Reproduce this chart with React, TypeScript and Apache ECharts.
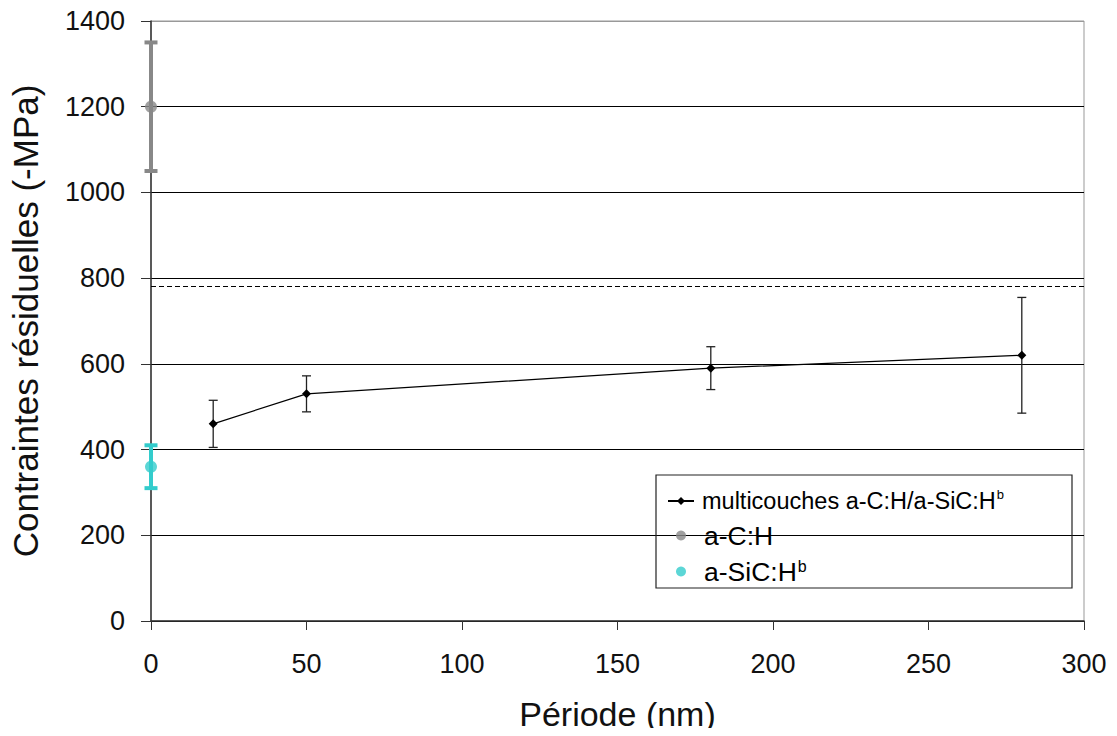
import React, { useEffect, useRef } from "react";
import * as echarts from "echarts";

const periods = [20, 50, 180, 280];
const multiValues = [460, 530, 590, 620];
const multiErrors = [55, 42, 50, 135];
const acValue = 1200;
const acError = 150;
const asicValue = 360;
const asicError = 50;
const refLine = 780;
const xTicks = { min: 0, max: 300, interval: 50 };
const yTicks = { min: 0, max: 1400, interval: 200 };

const NAME_MULTI = "multicouches a-C:H/a-SiC:H";
const NAME_AC = "a-C:H";
const NAME_ASIC = "a-SiC:H";

function errorBar(color: string, width: number, cap: number) {
  return (params: any, api: any) => {
    const x = api.value(0);
    const lo = api.coord([x, api.value(1)]);
    const hi = api.coord([x, api.value(2)]);
    const style = { stroke: color, lineWidth: width };
    return {
      type: "group",
      children: [
        { type: "line", shape: { x1: lo[0], y1: lo[1], x2: hi[0], y2: hi[1] }, style },
        { type: "line", shape: { x1: lo[0] - cap / 2, y1: lo[1], x2: lo[0] + cap / 2, y2: lo[1] }, style },
        { type: "line", shape: { x1: hi[0] - cap / 2, y1: hi[1], x2: hi[0] + cap / 2, y2: hi[1] }, style },
      ],
    };
  };
}

export default function App() {
  const ref = useRef<HTMLDivElement>(null);
  useEffect(() => {
    if (!ref.current) return;
    const chart = echarts.init(ref.current, null, { renderer: "svg" });
    const font = "Liberation Sans, Arial, sans-serif";
    const multiErr = periods.map((p, i) => [p, multiValues[i] - multiErrors[i], multiValues[i] + multiErrors[i]]);
    const option: any = {
      animation: false,
      backgroundColor: "#fff",
      textStyle: { fontFamily: font },
      grid: {
        left: 151, top: 21, right: 33, bottom: 115,
        show: true, borderColor: "#999", borderWidth: 1,
      },
      xAxis: {
        type: "value",
        min: xTicks.min, max: xTicks.max, interval: xTicks.interval,
        name: "Période (nm)",
        nameLocation: "middle",
        nameGap: 76,
        nameTextStyle: { fontSize: 34, color: "#111", fontFamily: font },
        axisLine: { show: true, lineStyle: { color: "#333", width: 1.5 } },
        axisTick: { show: true, length: 9, lineStyle: { color: "#333" } },
        axisLabel: { fontSize: 27, color: "#111", margin: 29, fontFamily: font, formatter: (v: number) => String(v) },
        splitLine: { show: false },
      },
      yAxis: {
        type: "value",
        min: yTicks.min, max: yTicks.max, interval: yTicks.interval,
        name: "Contraintes résiduelles (-MPa)",
        nameLocation: "middle",
        nameGap: 108,
        nameTextStyle: { fontSize: 35, color: "#111", fontFamily: font },
        axisLine: { show: true, lineStyle: { color: "#333", width: 1.5 } },
        axisTick: { show: true, length: 10, lineStyle: { color: "#333" } },
        axisLabel: { fontSize: 27, color: "#111", margin: 26, fontFamily: font, formatter: (v: number) => String(v) },
        splitLine: {
          show: true,
          lineStyle: {
            color: ["#000", "#000", "#000", "#000", "#000", "#000", "#000", "#999"],
            width: 1.2,
          },
        },
      },
      legend: {
        orient: "vertical",
        left: 662,
        top: 483,
        itemGap: 9,
        itemWidth: 26,
        itemHeight: 10,
        data: [
          { name: NAME_MULTI },
          { name: NAME_AC, icon: "circle" },
          { name: NAME_ASIC, icon: "circle" },
        ],
        formatter: (name: string) => {
          if (name === NAME_MULTI) return "{m|" + name + "}{sup|b}";
          if (name === NAME_ASIC) return "{n|" + name + "}{supb|b}";
          return "{n|" + name + "}";
        },
        textStyle: {
          fontFamily: font,
          color: "#000",
          rich: {
            m: { fontSize: 23.5, fontFamily: font, color: "#000", lineHeight: 26, padding: [0, 0, 0, 3] },
            n: { fontSize: 26.5, fontFamily: font, color: "#000", lineHeight: 26, padding: [0, 0, 0, 5] },
            sup: { fontSize: 13, fontFamily: font, color: "#000", verticalAlign: "top", lineHeight: 26, padding: [0, 0, 9, 1] },
            supb: { fontSize: 16, fontFamily: font, color: "#000", verticalAlign: "top", lineHeight: 26, padding: [0, 0, 9, 1] },
          },
        },
      },
      graphic: [
        {
          type: "rect",
          shape: { x: 656, y: 475, width: 416, height: 113 },
          style: { fill: "none", stroke: "#222", lineWidth: 1.2 },
          z: 100,
          silent: true,
        },
      ],
      series: [
        {
          type: "custom",
          renderItem: errorBar("#222", 1.3, 9),
          data: multiErr,
          z: 2,
          silent: true,
        },
        {
          type: "custom",
          renderItem: errorBar("#888", 4, 13),
          data: [[0, acValue - acError, acValue + acError]],
          z: 2,
          silent: true,
        },
        {
          type: "custom",
          renderItem: errorBar("#33CCCC", 4, 13),
          data: [[0, asicValue - asicError, asicValue + asicError]],
          z: 2,
          silent: true,
        },
        {
          name: NAME_MULTI,
          type: "line",
          data: periods.map((p, i) => [p, multiValues[i]]),
          symbol: "diamond",
          symbolSize: 9,
          itemStyle: { color: "#000" },
          lineStyle: { color: "#000", width: 1.2 },
          z: 3,
          markLine: {
            silent: true,
            symbol: "none",
            label: { show: false },
            lineStyle: { color: "#000", type: [5, 3], width: 1.2 },
            data: [{ yAxis: refLine }],
          },
        },
        {
          name: NAME_AC,
          type: "scatter",
          data: [[0, acValue]],
          symbol: "circle",
          symbolSize: 12,
          itemStyle: { color: "#888" },
          z: 3,
        },
        {
          name: NAME_ASIC,
          type: "scatter",
          data: [[0, asicValue]],
          symbol: "circle",
          symbolSize: 12,
          itemStyle: { color: "#33CCCC" },
          z: 3,
        },
      ],
    };
    chart.setOption(option);
    return () => chart.dispose();
  }, []);
  return <div ref={ref} style={{ width: 1117, height: 736, margin: -8 }} />;
}
